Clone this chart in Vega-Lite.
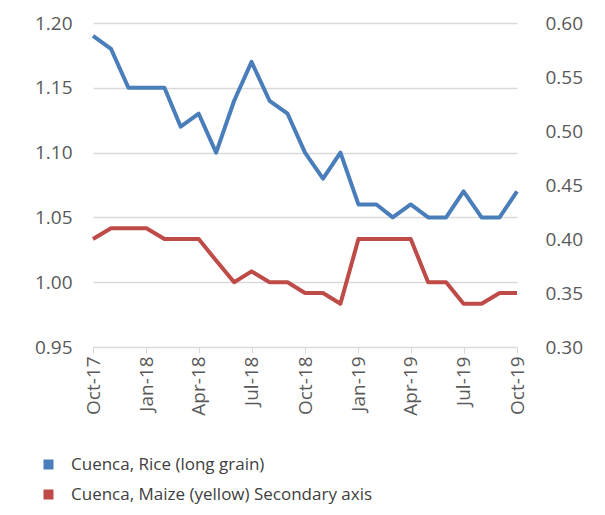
{
  "$schema": "https://vega.github.io/schema/vega-lite/v6.json",
  "width": 424,
  "height": 324,
  "autosize": "none",
  "padding": {"left": 93, "top": 23, "right": 88, "bottom": 168},
  "background": "white",
  "config": {
    "font": "Open Sans",
    "view": {"stroke": null},
    "axis": {"labelColor": "#595959", "labelFont": "Open Sans", "labelFontSize": 19, "title": null}
  },
  "data": {
    "values": [
      {"date": "2017-10-01", "series": "Cuenca, Rice (long grain)", "price": 1.19},
      {"date": "2017-11-01", "series": "Cuenca, Rice (long grain)", "price": 1.18},
      {"date": "2017-12-01", "series": "Cuenca, Rice (long grain)", "price": 1.15},
      {"date": "2018-01-01", "series": "Cuenca, Rice (long grain)", "price": 1.15},
      {"date": "2018-02-01", "series": "Cuenca, Rice (long grain)", "price": 1.15},
      {"date": "2018-03-01", "series": "Cuenca, Rice (long grain)", "price": 1.12},
      {"date": "2018-04-01", "series": "Cuenca, Rice (long grain)", "price": 1.13},
      {"date": "2018-05-01", "series": "Cuenca, Rice (long grain)", "price": 1.10},
      {"date": "2018-06-01", "series": "Cuenca, Rice (long grain)", "price": 1.14},
      {"date": "2018-07-01", "series": "Cuenca, Rice (long grain)", "price": 1.17},
      {"date": "2018-08-01", "series": "Cuenca, Rice (long grain)", "price": 1.14},
      {"date": "2018-09-01", "series": "Cuenca, Rice (long grain)", "price": 1.13},
      {"date": "2018-10-01", "series": "Cuenca, Rice (long grain)", "price": 1.10},
      {"date": "2018-11-01", "series": "Cuenca, Rice (long grain)", "price": 1.08},
      {"date": "2018-12-01", "series": "Cuenca, Rice (long grain)", "price": 1.10},
      {"date": "2019-01-01", "series": "Cuenca, Rice (long grain)", "price": 1.06},
      {"date": "2019-02-01", "series": "Cuenca, Rice (long grain)", "price": 1.06},
      {"date": "2019-03-01", "series": "Cuenca, Rice (long grain)", "price": 1.05},
      {"date": "2019-04-01", "series": "Cuenca, Rice (long grain)", "price": 1.06},
      {"date": "2019-05-01", "series": "Cuenca, Rice (long grain)", "price": 1.05},
      {"date": "2019-06-01", "series": "Cuenca, Rice (long grain)", "price": 1.05},
      {"date": "2019-07-01", "series": "Cuenca, Rice (long grain)", "price": 1.07},
      {"date": "2019-08-01", "series": "Cuenca, Rice (long grain)", "price": 1.05},
      {"date": "2019-09-01", "series": "Cuenca, Rice (long grain)", "price": 1.05},
      {"date": "2019-10-01", "series": "Cuenca, Rice (long grain)", "price": 1.07},
      {"date": "2017-10-01", "series": "Cuenca, Maize (yellow) Secondary axis", "price": 0.40},
      {"date": "2017-11-01", "series": "Cuenca, Maize (yellow) Secondary axis", "price": 0.41},
      {"date": "2017-12-01", "series": "Cuenca, Maize (yellow) Secondary axis", "price": 0.41},
      {"date": "2018-01-01", "series": "Cuenca, Maize (yellow) Secondary axis", "price": 0.41},
      {"date": "2018-02-01", "series": "Cuenca, Maize (yellow) Secondary axis", "price": 0.40},
      {"date": "2018-03-01", "series": "Cuenca, Maize (yellow) Secondary axis", "price": 0.40},
      {"date": "2018-04-01", "series": "Cuenca, Maize (yellow) Secondary axis", "price": 0.40},
      {"date": "2018-05-01", "series": "Cuenca, Maize (yellow) Secondary axis", "price": 0.38},
      {"date": "2018-06-01", "series": "Cuenca, Maize (yellow) Secondary axis", "price": 0.36},
      {"date": "2018-07-01", "series": "Cuenca, Maize (yellow) Secondary axis", "price": 0.37},
      {"date": "2018-08-01", "series": "Cuenca, Maize (yellow) Secondary axis", "price": 0.36},
      {"date": "2018-09-01", "series": "Cuenca, Maize (yellow) Secondary axis", "price": 0.36},
      {"date": "2018-10-01", "series": "Cuenca, Maize (yellow) Secondary axis", "price": 0.35},
      {"date": "2018-11-01", "series": "Cuenca, Maize (yellow) Secondary axis", "price": 0.35},
      {"date": "2018-12-01", "series": "Cuenca, Maize (yellow) Secondary axis", "price": 0.34},
      {"date": "2019-01-01", "series": "Cuenca, Maize (yellow) Secondary axis", "price": 0.40},
      {"date": "2019-02-01", "series": "Cuenca, Maize (yellow) Secondary axis", "price": 0.40},
      {"date": "2019-03-01", "series": "Cuenca, Maize (yellow) Secondary axis", "price": 0.40},
      {"date": "2019-04-01", "series": "Cuenca, Maize (yellow) Secondary axis", "price": 0.40},
      {"date": "2019-05-01", "series": "Cuenca, Maize (yellow) Secondary axis", "price": 0.36},
      {"date": "2019-06-01", "series": "Cuenca, Maize (yellow) Secondary axis", "price": 0.36},
      {"date": "2019-07-01", "series": "Cuenca, Maize (yellow) Secondary axis", "price": 0.34},
      {"date": "2019-08-01", "series": "Cuenca, Maize (yellow) Secondary axis", "price": 0.34},
      {"date": "2019-09-01", "series": "Cuenca, Maize (yellow) Secondary axis", "price": 0.35},
      {"date": "2019-10-01", "series": "Cuenca, Maize (yellow) Secondary axis", "price": 0.35}
    ]
  },
  "encoding": {
    "x": {
      "field": "date",
      "type": "temporal",
      "scale": {"type": "utc", "domain": [{"year": 2017, "month": 10, "date": 1, "utc": true}, {"year": 2019, "month": 10, "date": 1, "utc": true}]},
      "axis": {
        "values": [
          {"year": 2017, "month": 10, "date": 1, "utc": true},
          {"year": 2018, "month": 1, "date": 1, "utc": true},
          {"year": 2018, "month": 4, "date": 1, "utc": true},
          {"year": 2018, "month": 7, "date": 1, "utc": true},
          {"year": 2018, "month": 10, "date": 1, "utc": true},
          {"year": 2019, "month": 1, "date": 1, "utc": true},
          {"year": 2019, "month": 4, "date": 1, "utc": true},
          {"year": 2019, "month": 7, "date": 1, "utc": true},
          {"year": 2019, "month": 10, "date": 1, "utc": true}
        ],
        "labelExpr": "utcFormat(datum.value, '%b-%y')",
        "labelAngle": -90,
        "labelPadding": 3,
        "grid": false,
        "domainColor": "#d9d9d9",
        "tickColor": "#d9d9d9",
        "tickSize": 6,
        "labelFlush": false,
        "labelOverlap": false
      }
    },
    "color": {
      "field": "series",
      "type": "nominal",
      "scale": {
        "domain": ["Cuenca, Rice (long grain)", "Cuenca, Maize (yellow) Secondary axis"],
        "range": ["#4a7ebb", "#be4b48"]
      },
      "legend": {
        "title": null,
        "orient": "none",
        "legendX": -53,
        "legendY": 433,
        "direction": "vertical",
        "symbolType": "square",
        "symbolSize": 100,
        "symbolStrokeWidth": 0,
        "labelFontSize": 17,
        "labelColor": "#404040",
        "labelFont": "Open Sans",
        "labelOffset": 14,
        "rowPadding": 12,
        "labelLimit": 400,
        "encode": {
          "symbols": {"update": {"fill": {"scale": "color", "field": "value"}, "fillOpacity": {"value": 1}}}
        }
      }
    }
  },
  "layer": [
    {
      "transform": [{"filter": "datum.series === 'Cuenca, Rice (long grain)'"}],
      "mark": {"type": "line", "strokeWidth": 4, "strokeJoin": "round"},
      "encoding": {
        "y": {
          "field": "price",
          "type": "quantitative",
          "scale": {"domain": [0.95, 1.2], "nice": false, "zero": false},
          "axis": {
            "orient": "left",
            "values": [0.95, 1.0, 1.05, 1.1, 1.15, 1.2],
            "format": ".2f",
            "grid": true,
            "gridColor": "#d9d9d9",
            "gridWidth": 1.5,
            "domain": false,
            "ticks": false,
            "labelPadding": 21
          }
        }
      }
    },
    {
      "transform": [{"filter": "datum.series === 'Cuenca, Maize (yellow) Secondary axis'"}],
      "mark": {"type": "line", "strokeWidth": 4, "strokeJoin": "round"},
      "encoding": {
        "y": {
          "field": "price",
          "type": "quantitative",
          "scale": {"domain": [0.3, 0.6], "nice": false, "zero": false},
          "axis": {
            "orient": "right",
            "values": [0.3, 0.35, 0.4, 0.45, 0.5, 0.55, 0.6],
            "format": ".2f",
            "grid": false,
            "domain": false,
            "ticks": false,
            "labelPadding": 28
          }
        }
      }
    }
  ],
  "resolve": {"scale": {"y": "independent"}}
}
